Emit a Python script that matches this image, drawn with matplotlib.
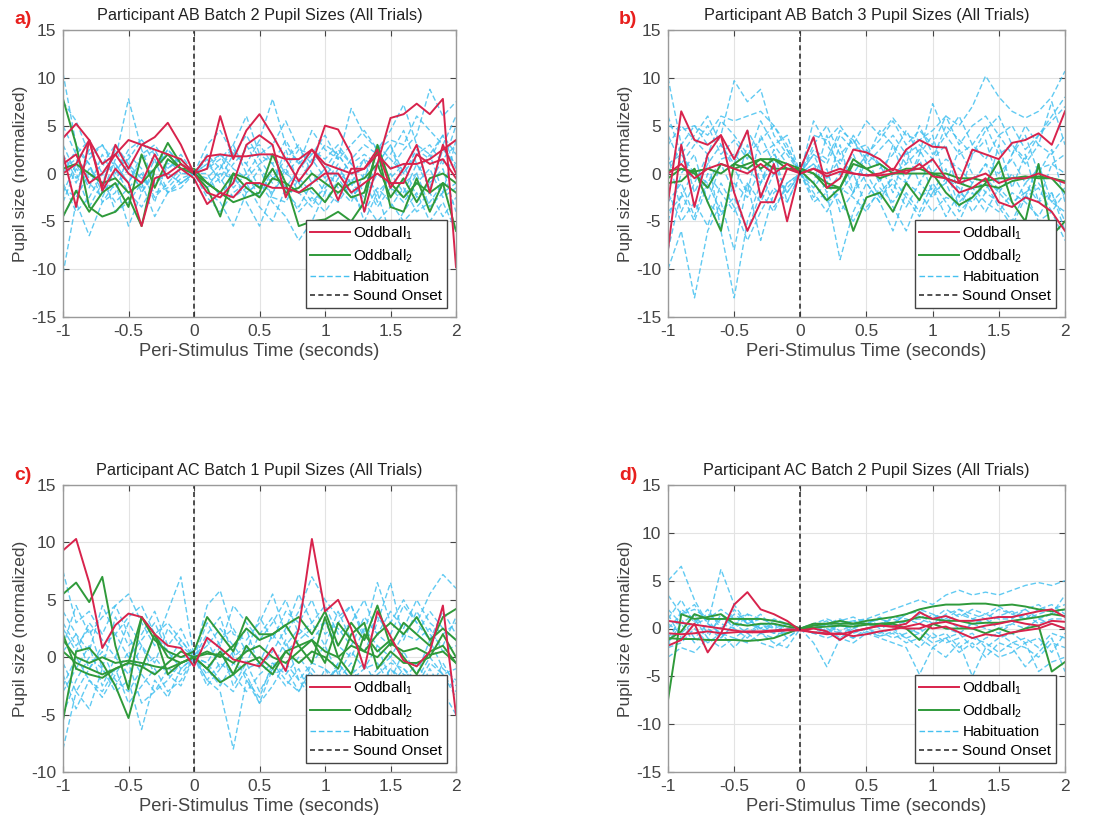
# Pupil size traces, 4 panels (participant/batch), oddball vs habituation trials
import numpy as np
import matplotlib
matplotlib.use('Agg')
import matplotlib.pyplot as plt
from matplotlib.lines import Line2D

plt.rcParams['font.family'] = ['Liberation Sans', 'DejaVu Sans']
plt.rcParams['mathtext.default'] = 'regular'
plt.rcParams['axes.unicode_minus'] = False

# sample times (seconds), 0.1 s step
t = np.linspace(-1, 2, 31)

# ---- panel a: participant AB batch 2 ----
a_odd1 = [
    [3.7, 5.2, 3.5, 1.0, 2.0, 3.5, 3.0, 3.8, 5.3, 3.0, 0.0, 0.5, 6.0, 1.5, 4.5, 6.2, 4.0, 1.5, -0.8, 1.0, 5.0, 4.6, 2.0, -4.0, 1.0, 5.8, 6.2, 7.3, 6.2, 7.8, -9.8],
    [2.0, -3.5, 3.5, -1.5, 3.0, 0.5, 3.0, 2.5, 2.0, 1.5, 0.0, 1.8, 2.0, 1.8, 1.8, 2.0, 2.0, 1.5, 1.5, 2.5, 1.0, 0.5, 0.0, 0.5, 2.0, 0.5, 1.0, 1.0, 1.5, 2.5, 3.5],
    [0.0, 1.0, 3.5, -1.8, 0.5, -1.0, -5.5, -0.5, 0.0, 1.0, 0.0, -2.0, -2.5, -1.0, 3.0, 4.0, 3.0, -2.5, 0.5, 2.5, 0.5, -2.8, 0.5, 0.5, 2.5, -1.5, 0.5, 3.0, -2.0, 3.0, 0.0],
    [1.0, 2.0, -1.0, 0.0, 2.0, 0.0, -1.0, 2.0, -0.5, 0.5, -0.5, -3.2, -2.0, -2.5, -1.0, -1.0, -1.5, -1.5, -2.0, -1.0, 0.0, 0.0, -2.0, -1.0, 0.0, -1.0, -1.0, 2.0, 1.0, 1.5, -0.5],
]
a_odd2 = [
    [7.8, 3.0, -3.5, -4.5, -4.0, -2.5, -5.5, 0.5, 3.2, 1.0, 0.0, -1.5, -4.5, 0.0, -1.5, -2.5, -0.5, -1.0, -5.5, -5.0, -4.8, -4.0, -5.0, -3.0, 3.0, -1.0, -2.5, -1.0, -2.0, -1.0, -6.0],
    [-4.5, -1.8, -4.0, -2.0, -1.0, -3.5, 2.0, -1.5, 1.5, 0.5, 0.5, -1.0, -2.0, -3.0, -2.5, -2.0, 2.0, -1.0, -2.0, -1.5, -3.0, -1.0, -2.5, -2.0, 2.5, -3.5, -4.0, -0.5, -4.0, -1.0, -2.0],
    [0.5, 1.0, 0.0, -1.0, -0.5, -2.0, -1.0, 0.5, 2.0, 0.5, 0.0, -1.0, -2.0, 0.0, -0.5, -1.5, 0.5, -2.0, -1.5, 0.0, -1.0, -2.0, -1.0, -0.5, 1.0, -2.5, -0.5, -3.0, -0.5, 0.0, -1.0],
]
a_hab = [
    [10.5, 3.0, 1.0, -2.0, 1.5, 7.8, 2.5, -1.0, 0.5, 2.0, 0.0, 1.5, -1.0, 1.0, 2.5, 3.0, 1.0, -1.5, 0.5, 2.0, 1.0, -0.5, 1.5, 3.0, 2.0, 0.5, 2.5, 4.0, 8.8, 6.0, 7.5],
    [-10.5, -3.0, -6.5, -3.0, -1.0, -5.5, -2.0, 0.0, -2.0, -1.0, 0.0, -2.0, -3.0, -5.5, -2.0, -1.0, -3.0, -4.5, -7.0, -5.0, -2.0, -3.0, -1.0, -5.0, -2.0, -6.5, -4.0, -2.0, -5.0, -3.0, -6.0],
    [7.5, 5.5, 2.0, 3.0, 0.5, 1.5, 3.5, 2.0, 0.5, 1.5, 0.0, 3.0, 4.5, 2.0, 1.0, 3.5, 7.8, 3.0, 1.0, 4.5, 2.5, 1.5, 6.8, 4.0, 2.5, 4.5, 7.2, 3.0, 2.0, 4.0, 2.0],
    [-4.5, -2.0, 0.5, -1.0, -3.0, -1.5, 0.0, -2.5, -1.0, 0.5, 0.0, -0.5, 1.0, -1.5, 0.0, -2.5, 0.5, -2.0, -3.5, -1.0, 0.5, -1.5, -3.0, 0.0, -2.0, -0.5, 1.0, -2.5, -1.0, 0.5, -4.0],
    [1.5, -1.0, 2.5, 0.0, 1.0, -1.0, 1.5, 2.5, 0.0, -1.0, 0.0, 1.0, 2.0, 0.5, -0.5, 1.0, 2.0, 0.0, 1.5, -1.0, 0.5, 2.5, 1.0, -0.5, 3.0, 1.5, 0.0, 2.0, 3.0, 1.0, 5.0],
    [-2.0, 1.0, -1.5, 2.0, -0.5, 1.0, -2.0, 0.5, 2.5, 1.0, 0.0, -1.5, 0.5, 2.5, 1.0, -1.5, -0.5, 1.5, 3.0, 0.0, -2.0, 0.5, -1.0, 1.5, -3.0, 0.0, -2.0, 1.0, -1.5, 2.5, 1.0],
    [3.0, 0.0, -3.5, -1.0, 2.5, 0.0, -1.5, 1.5, -2.0, -0.5, 0.0, 0.5, 2.0, -1.0, 3.0, 0.5, -1.0, 2.5, -1.0, 1.5, -0.5, 2.0, 0.0, -2.0, 1.0, 3.0, -1.0, 0.0, 2.0, -2.0, 3.5],
    [0.0, 2.5, 1.0, -3.0, -2.0, 2.0, 0.5, -3.0, 1.5, 0.0, 0.0, 0.0, -2.5, 0.0, -3.0, -5.5, -2.0, 0.5, -2.0, -3.5, -1.0, 1.0, -2.0, -4.0, -1.5, -3.0, -5.0, -3.5, -2.0, -4.5, -2.5],
    [5.0, 2.0, 3.5, 1.0, 0.0, 2.5, 3.5, 1.0, 2.0, 0.5, 0.0, 2.0, 0.5, 3.0, 6.0, 2.0, 3.0, 5.5, 2.5, 2.0, 4.0, 1.5, 3.0, 4.5, 2.5, 3.5, 3.0, 6.0, 4.5, 3.0, 6.0],
    [-1.0, -4.0, -2.5, 0.0, -4.0, -3.0, -1.0, -4.5, -2.0, -1.5, 0.0, -2.5, -4.0, -2.0, -1.0, -3.5, -5.0, -1.5, -4.0, -2.5, -4.0, -2.0, -0.5, -3.0, -5.0, -3.5, -1.5, -4.0, -3.0, -1.0, -2.0],
    [2.0, -0.5, 1.5, 3.0, 1.0, -1.0, 2.0, 3.0, 1.0, 1.5, 0.0, 1.0, -0.5, 2.0, 4.0, 1.5, -0.5, 0.5, 2.5, 1.0, 3.0, 2.0, 0.0, 1.5, 0.5, 2.0, 4.5, 1.0, -1.0, 1.5, 3.0],
    [-3.0, 0.5, -1.0, -2.5, 0.5, -2.0, -3.5, -1.0, 0.0, -1.0, 0.0, -1.5, -0.5, -2.5, -1.5, 0.5, -2.5, -3.0, -0.5, -2.0, -3.0, -0.5, -2.5, -1.0, -3.5, -1.5, -2.5, 0.0, -3.5, -2.0, -1.0],
    [0.5, 1.5, -0.5, 1.0, 3.0, 1.0, -0.5, 0.5, 2.5, 1.0, 0.0, 0.5, 1.5, 3.0, 0.0, 2.0, 1.0, 3.5, 1.0, 2.5, 1.5, 3.0, 1.0, 2.0, 1.0, 3.0, 0.0, 2.5, 1.5, 4.0, 0.5],
    [-1.5, -2.5, 0.0, -1.0, -1.5, 0.5, -0.5, -2.0, -1.5, 0.0, 0.0, -1.0, 0.0, -0.5, -2.0, -1.0, -2.0, 0.0, -1.0, -3.0, -1.5, 0.0, -1.0, -2.5, 0.0, -1.5, -3.0, -1.0, 0.5, -2.5, -1.5],
]

# ---- panel b: participant AB batch 3 ----
b_odd1 = [
    [-8.0, 3.0, -3.5, 2.0, 4.0, 1.5, 4.5, -2.5, 1.0, -5.0, 0.5, 3.8, -1.5, -0.5, 2.5, 2.2, 1.5, 0.3, 2.5, 3.5, 2.8, 2.7, -1.0, 2.5, 2.0, 1.5, 3.2, 3.5, 4.2, 3.0, 6.5],
    [-3.0, 6.5, 3.5, 3.0, 4.0, -2.0, -6.0, -3.0, -3.0, 0.5, 0.0, 0.5, -0.3, 0.2, 0.0, -0.2, -0.2, 0.0, 0.3, 0.5, 1.5, -0.5, -2.0, -1.5, -0.5, -3.0, -3.5, -2.5, -3.0, -4.0, -6.0],
    [0.0, 1.0, -0.5, 0.5, 1.0, 0.5, 0.0, 1.0, 0.0, 1.0, 0.0, 0.5, 0.0, 0.5, 0.0, -0.2, 0.0, 0.5, 0.0, 1.0, -0.3, -0.5, -1.0, -0.5, 0.0, -1.0, -0.5, -0.5, 0.0, -0.5, -1.0],
]
b_odd2 = [
    [-1.0, -0.8, 0.5, -3.0, -6.0, 1.0, 2.0, 0.5, 1.5, 0.5, 0.3, -1.0, -2.8, -1.5, -6.0, -2.5, -2.0, -4.0, -1.0, -2.8, 0.0, -2.0, -3.3, -2.5, -1.0, 1.3, -3.0, -5.0, 1.0, -6.5, -5.0],
    [0.3, 0.5, 0.0, -1.5, 1.0, 0.5, 1.0, 1.5, 1.5, 1.0, 0.5, 0.0, -1.5, -1.5, 1.5, 0.5, -0.5, 0.0, 0.0, 0.0, 0.0, -0.5, -1.0, -1.5, -1.2, -1.5, -0.8, -0.5, -0.3, -0.5, -2.0],
    [-0.5, 0.5, 0.2, 0.5, 0.0, 1.0, 0.5, 1.5, 0.5, 0.5, 0.5, 0.0, -1.0, -1.5, 1.0, 0.5, 1.0, 0.0, 0.5, 0.5, 0.0, 0.0, -0.5, -0.5, -0.8, -0.5, -0.5, -0.3, -0.5, -0.5, -0.8],
]
b_hab = [
    [10.0, 3.0, 5.0, 3.0, 4.0, 9.7, 7.5, 8.8, 4.0, 2.0, 0.0, 5.5, 3.0, 1.0, 4.0, 2.0, 3.5, 5.5, 3.0, 4.5, 3.0, 6.0, 5.0, 7.0, 10.2, 8.0, 6.5, 5.8, 6.5, 8.0, 10.7],
    [-10.0, -6.0, -13.0, -6.0, -3.0, -8.0, -1.0, -7.0, -2.0, -1.0, 0.0, -3.0, -2.0, -9.0, -4.0, -1.0, -3.0, -6.0, -2.0, -4.0, -1.0, -3.0, -5.0, -2.0, -4.0, -1.5, -3.0, -2.0, -5.0, -4.0, -7.0],
    [2.0, -4.0, -1.0, 2.0, -6.0, -13.0, -5.0, -1.0, 1.0, -2.0, 0.0, 1.0, -2.0, 0.0, 2.0, -1.0, -3.0, 0.0, -1.0, 1.5, -2.0, 0.5, -3.5, -1.0, 1.0, -2.0, 0.0, -2.5, 1.0, -3.0, -1.5],
    [5.0, 4.5, 5.0, 4.0, 6.0, 5.5, 6.0, 6.5, 5.0, 3.0, 0.0, 4.0, 3.5, 5.0, 3.0, 5.5, 4.0, 5.8, 4.0, 3.5, 4.5, 6.0, 3.0, 5.0, 6.0, 4.0, 5.0, 2.5, 4.0, 6.0, 8.0],
    [-5.0, 0.0, 2.0, -3.0, 1.0, -2.0, 3.0, -1.0, 2.5, -3.0, 0.0, 2.0, -1.0, 3.0, -2.0, 1.5, -1.0, 3.0, -1.0, 2.0, 4.0, -1.0, 2.5, 0.0, -2.0, 3.0, -1.5, 2.0, -3.0, 1.0, 2.0],
    [0.0, 3.0, -2.0, 1.0, 3.0, 0.5, -2.0, 4.0, 1.0, 2.5, 0.0, -1.0, 4.0, 0.0, -2.0, 2.5, 1.0, -2.0, 2.5, -1.0, 1.5, 3.0, -2.5, 2.0, 3.5, -1.0, 2.0, 4.0, 0.0, 2.5, -3.0],
    [-3.0, -1.0, -4.5, 0.0, -2.0, -4.0, -1.0, -3.0, 0.0, -2.0, 0.0, -1.5, 0.5, -4.0, -2.0, 0.0, -2.5, -1.0, -3.5, -1.0, -2.5, -0.5, -1.5, -4.0, -2.0, -3.0, -5.0, -2.0, -1.0, -3.0, -4.0],
    [4.0, 1.0, 3.0, 5.0, 2.0, 3.5, 1.5, 5.5, 3.0, 1.0, 0.0, 2.0, 1.0, 4.0, 2.5, 3.0, 0.5, 2.0, 4.5, 2.0, 7.3, 4.0, 2.0, 3.0, 5.0, 2.0, 3.0, 1.0, 3.0, 2.0, 4.0],
    [-8.0, -2.0, -5.0, -1.0, -4.0, -2.5, -6.0, -2.0, -4.0, -1.0, 0.0, -2.0, -4.0, -1.5, -2.5, -4.0, -1.5, -3.0, -1.0, -2.0, -4.0, -2.5, -3.0, -1.5, -3.0, -4.0, -2.0, -3.0, -4.5, -2.0, -6.0],
    [1.0, 2.0, 0.0, -1.0, 1.5, 2.0, 0.5, -1.0, 2.0, 0.5, 0.0, 1.0, -0.5, 1.5, 0.0, 2.0, 1.0, 0.0, 1.0, 2.5, 0.0, 1.5, 0.5, -1.0, 1.0, 0.0, 1.5, -1.0, 0.5, 1.0, 0.0],
    [3.0, 5.0, 3.5, 2.0, 5.5, 4.0, 2.0, 3.5, 5.0, 2.5, 0.0, 3.0, 5.0, 2.0, 3.5, 1.5, 4.5, 3.0, 1.0, 5.0, 2.0, 4.0, 6.0, 3.0, 1.5, 4.0, 2.0, 5.0, 3.0, 7.5, 3.0],
    [-2.0, -5.0, -3.0, -5.5, -1.0, -3.5, -7.0, -4.0, -1.5, -3.0, 0.0, -2.5, -1.0, -3.0, -5.0, -2.5, -0.5, -3.5, -6.0, -2.5, -1.5, -4.5, -2.0, -3.0, -1.0, -3.5, -5.5, -2.5, -1.5, -4.0, -2.0],
    [6.0, 2.0, 4.0, 6.0, 3.0, 1.0, 4.5, 2.0, 3.0, 4.0, 0.0, 2.5, 1.5, 4.5, 3.5, 1.0, 2.5, 4.0, 2.0, 3.0, 1.5, 5.0, 3.5, 2.0, 4.5, 6.0, 3.0, 1.5, 4.0, 5.5, 7.0],
    [-4.0, -2.5, 0.5, -3.0, -4.5, -1.0, -2.5, 0.5, -3.5, -1.5, 0.0, -1.0, -3.0, -2.0, 0.0, -3.5, -2.0, -0.5, -2.5, -4.5, -2.0, -1.0, -4.0, -2.5, -0.5, -2.0, -3.5, -1.0, -3.0, -2.0, -5.0],
]

# ---- panel c: participant AC batch 1 ----
c_odd1 = [
    [9.3, 10.3, 6.5, 0.8, 2.8, 3.8, 3.5, 2.0, 1.0, 0.8, -0.8, 1.7, 0.8, -0.2, -0.5, -0.8, 0.8, -1.2, 2.5, 10.3, 4.0, 5.0, 2.5, -1.0, 4.0, 1.8, -0.3, -0.8, 0.5, 4.5, -5.0],
]
c_odd2 = [
    [5.5, 6.5, 4.8, 7.0, 1.0, -2.8, 3.5, 1.5, 0.5, 0.0, 0.5, 3.5, 2.0, 0.5, 3.5, 2.0, 2.0, 2.8, 3.5, 2.0, 4.0, 1.0, 3.0, 1.5, 4.5, 1.0, 3.0, 2.0, 1.0, 3.5, 4.2],
    [-5.5, 0.5, 0.8, -0.5, -2.5, -5.3, -1.0, 2.0, 0.0, -0.5, 0.0, -1.0, 0.5, -1.5, 1.0, -0.5, -1.5, 0.5, 1.0, -0.5, 3.5, 0.0, -1.5, 2.0, 0.5, 1.5, 0.0, -1.5, 0.5, 1.0, -0.5],
    [2.0, -1.0, -1.5, -1.8, -1.0, -0.5, 3.5, 2.0, -1.5, -0.5, 0.0, -1.0, -2.2, -1.5, -0.5, 0.0, -1.0, 0.5, -0.5, 0.5, 0.0, -1.0, 2.0, 3.0, -1.0, 0.5, -0.5, -0.5, 0.0, 2.0, 0.0],
    [0.5, -0.5, -1.0, -1.5, -1.0, -0.5, -0.8, -1.5, -0.5, 0.5, 0.0, 0.5, 0.0, 1.0, 2.5, 1.5, 2.0, 2.8, 1.0, 1.5, -0.5, 3.0, 1.5, 0.5, 2.0, 3.0, 2.0, 3.5, 1.5, 2.5, 1.5],
    [1.5, 0.0, -0.5, 0.0, -0.5, -0.3, -0.5, -0.8, -1.0, -0.5, 0.0, 0.3, 0.2, -0.5, 0.5, 1.0, 0.0, -0.5, 0.5, 1.5, 0.5, 0.0, 1.0, 0.5, 0.0, 1.2, 0.5, 0.8, 0.2, 0.5, -0.5],
]
c_hab = [
    [7.5, 3.0, 4.0, 2.0, 4.5, 5.5, 3.0, 1.0, 4.0, 7.0, 0.0, 4.5, 5.8, 2.0, 1.5, 3.0, 5.5, 2.0, 4.0, 7.0, 5.0, 3.5, 4.5, 2.0, 6.5, 3.0, 5.0, 3.0, 5.5, 7.2, 6.0],
    [-8.0, -3.0, -4.5, -1.0, -3.0, -2.0, -6.3, -2.0, -3.5, -1.0, 0.0, -2.0, -3.0, -8.0, -2.0, -4.0, -1.0, -2.5, -1.0, -3.5, -2.0, -1.0, -4.5, -2.0, -3.0, -1.0, -2.5, -3.5, -1.0, -3.0, -5.0],
    [3.0, 1.0, 2.5, -1.0, 3.5, 1.0, 2.0, 4.0, 1.0, 2.5, 0.0, 3.0, 1.0, 4.5, 3.0, 1.5, 3.0, 5.0, 2.0, 3.0, 4.5, 2.0, 3.0, 5.0, 2.0, 4.0, 2.5, 5.0, 3.0, 2.0, 3.0],
    [-3.0, -1.0, 1.0, -2.5, 0.0, -1.5, 1.0, -1.5, -0.5, 1.5, 0.0, -1.5, 1.0, -2.5, -0.5, -3.0, -1.0, 1.5, -2.0, -0.5, 1.0, -1.5, 0.5, -1.0, 1.0, -2.0, 0.5, -1.5, 1.5, -1.0, -2.0],
    [1.0, 4.5, 2.0, 3.5, 4.5, 2.0, -1.0, 2.0, 0.5, -1.0, 0.0, 1.5, -1.0, 0.5, 2.5, -1.0, 0.5, 2.5, 5.5, 3.0, 1.0, 4.0, 1.5, 0.5, 3.0, 6.5, 1.5, 4.0, 2.0, 1.0, 3.5],
    [-1.5, -4.5, -2.0, -3.0, -1.0, -4.0, -2.5, -1.0, -3.0, -2.0, 0.0, -1.0, -2.5, -0.5, -1.5, -4.0, -2.5, -0.5, -2.0, -3.5, -1.0, -3.0, -1.5, -0.5, -2.5, -1.0, -2.0, -0.5, -2.5, -1.5, -3.0],
    [0.5, 2.0, -1.0, 1.0, 2.0, 0.0, 1.5, 3.0, 0.5, 0.0, 0.0, 2.0, 3.5, 0.0, 1.0, -0.5, 2.0, 0.5, 1.5, 2.5, 3.0, 1.0, 0.0, 2.5, 1.0, 0.0, 2.0, 1.5, 2.5, 0.5, 1.0],
    [-5.0, -2.0, 0.0, -1.0, -2.5, -0.5, -4.0, -3.0, -1.0, -1.5, 0.0, -0.5, -2.0, -3.0, -1.0, -0.5, -1.5, -1.0, -3.0, -0.5, -1.0, -2.0, -0.5, -3.5, -1.5, -0.5, -1.0, -2.5, -0.5, -1.5, -3.5],
    [2.5, 0.5, 3.0, 1.5, 0.0, 3.0, 1.0, -0.5, 2.5, 1.0, 0.0, 1.0, 2.5, 1.0, -0.5, 2.0, 3.5, 1.0, 2.5, 1.5, 3.0, 2.5, 1.0, 3.5, 2.0, 1.0, 3.0, 2.0, 4.0, 2.5, 1.5],
    [-2.5, 0.0, -2.0, -3.5, -1.5, 0.5, -1.5, -3.0, -2.0, -0.5, 0.0, -2.0, -0.5, -1.5, -3.0, -1.5, -0.5, -2.0, -3.0, -1.0, -2.5, -0.5, -2.0, -1.0, -0.5, -2.5, -1.0, -2.0, -3.0, -0.5, -2.5],
    [4.0, 2.0, 0.5, 4.5, 2.0, 3.5, 4.5, 2.0, 3.0, 1.5, 0.0, -0.5, 1.5, 2.5, 0.5, 3.5, 1.5, 4.0, 3.0, 5.0, 2.0, 3.0, 4.5, 1.5, 3.5, 2.0, 4.5, 3.0, 1.5, 4.0, 2.0],
    [-0.5, -3.0, -1.0, 0.5, -2.0, -3.0, -1.0, 0.0, -1.5, -2.5, 0.0, -2.5, -1.0, 0.5, -2.0, -3.5, -0.5, -1.5, 0.0, -1.5, -3.0, -0.5, -2.0, -2.5, -1.0, 0.0, -1.5, -2.0, 0.0, -1.5, -1.0],
]

# ---- panel d: participant AC batch 2 ----
d_odd1 = [
    [-1.8, -1.2, 0.5, -2.5, -0.5, 2.5, 3.8, 2.0, 1.5, 0.8, -0.2, 0.0, -0.3, -1.2, -0.3, 0.0, 0.3, 0.2, 0.5, 1.7, 1.0, 1.3, 0.8, 0.8, 1.0, 1.2, 1.2, 1.5, 1.8, 2.0, 1.2],
    [0.8, 0.6, 0.4, 0.2, 0.0, -0.2, -0.4, -0.4, -0.3, -0.2, -0.2, -0.4, -0.6, -0.5, -0.8, -0.6, -0.3, -0.1, 0.2, 0.5, 0.0, 0.2, -0.4, -1.0, -0.6, -0.8, -0.4, -0.2, 0.0, 0.5, 0.0],
    [-0.5, -0.6, -0.5, -0.3, -0.5, -0.4, -0.3, -0.3, -0.2, -0.1, -0.1, -0.4, -0.5, -0.6, -0.3, 0.0, 0.3, 0.2, 0.0, 0.0, 0.5, 0.7, 0.3, 0.0, 0.3, 0.5, 0.8, 0.5, 0.3, 0.8, 0.7],
]
d_odd2 = [
    [-7.5, 1.5, 1.0, 1.2, 1.5, 0.5, 0.3, 0.5, 0.5, 0.2, 0.0, 0.3, 0.5, 0.8, 0.5, 0.5, 0.3, 0.5, 0.0, -1.2, 0.5, 0.0, 0.0, 0.0, -0.5, 0.0, -0.5, 0.0, 0.3, -4.5, -3.5],
    [-1.2, -0.3, 1.5, 1.0, 1.0, 1.0, 1.0, 1.0, 0.8, 0.5, 0.0, 0.5, 0.5, 0.5, 0.5, 0.8, 1.0, 1.2, 1.5, 2.0, 2.3, 2.5, 2.5, 2.6, 2.6, 2.4, 2.5, 2.3, 2.0, 1.8, 2.0],
    [-1.0, -1.1, -1.1, -1.2, -1.2, -1.2, -1.3, -1.2, -1.0, -0.5, 0.0, 0.1, 0.2, 0.3, 0.2, 0.4, 0.5, 0.6, 0.8, 1.2, 1.0, 0.8, 0.8, 0.5, 0.6, 0.6, 0.8, 1.0, 1.2, 1.5, 1.3],
]
d_hab = [
    [5.0, 6.5, 3.0, 0.5, 6.2, 2.5, 0.5, 1.0, 0.5, 0.0, 0.0, 0.5, 1.0, 0.5, 0.8, 1.0, 1.5, 2.0, 2.5, 3.0, 2.5, 3.5, 4.0, 3.5, 3.8, 3.5, 4.0, 4.5, 4.8, 4.5, 5.0],
    [-3.0, -2.0, -2.5, -1.0, -2.0, -1.0, -1.5, -0.5, -1.5, -2.0, 0.0, -1.5, -4.0, -1.0, -1.5, -0.5, -1.0, -1.5, -2.0, -4.8, -2.0, -3.0, -1.5, -5.0, -2.0, -3.0, -2.5, -1.5, -4.5, -3.5, -3.0],
    [2.0, 0.5, 1.5, -0.5, 1.0, 0.5, 1.0, 0.0, -0.5, 0.5, 0.0, 0.3, 0.8, -0.3, 0.5, 1.0, 0.3, 1.2, 1.0, 0.5, 1.5, 0.8, 1.5, 1.0, 0.5, 1.3, 1.8, 1.0, 1.5, 2.0, 2.5],
    [-1.0, 1.0, -1.0, 0.5, -0.5, -1.0, 0.0, -0.5, 0.5, -1.0, 0.0, -0.5, 0.0, -1.0, 0.0, -0.5, -0.3, -1.0, -0.5, 0.0, -1.0, -0.5, -2.0, -1.0, -1.5, -2.5, -1.5, -2.0, -3.0, -1.5, -2.0],
    [3.5, 1.5, 2.0, 1.0, 2.0, 1.0, 1.5, 1.0, 0.8, 0.5, 0.0, 0.5, 0.2, 0.8, 1.2, 0.5, 1.0, 0.5, 1.5, 1.8, 1.0, 2.0, 1.2, 2.0, 1.5, 2.3, 1.5, 2.0, 2.5, 1.5, 3.5],
    [-2.0, -1.5, 0.0, -1.5, -0.5, -2.0, -0.5, -1.5, -2.0, -1.0, 0.0, -0.5, -1.0, -0.5, -1.0, -0.3, -0.8, -0.5, -1.5, -1.0, -2.0, -1.0, -2.5, -1.5, -3.0, -1.5, -2.0, -4.0, -2.5, -1.0, -4.5],
    [0.5, -0.5, 0.8, 1.5, 0.5, 0.0, 1.0, 0.0, 0.5, -0.5, 0.0, 0.5, -0.5, 0.3, 0.0, 0.8, 0.0, 0.5, 0.0, -0.5, 0.5, 0.0, -0.5, 0.5, 0.0, -0.5, 0.5, 0.0, 1.0, 0.5, 0.0],
    [1.0, 3.0, 0.5, 2.0, 0.0, 1.5, 0.5, 1.5, 0.0, 0.5, 0.0, 0.0, 0.5, 1.0, 0.3, 0.5, 1.2, 0.3, 0.8, 1.0, 0.5, 1.0, 0.0, 0.5, 1.0, 0.0, 0.5, 1.5, 0.5, 1.0, 1.0],
    [-2.0, 2.0, 1.0, -1.0, 1.5, 0.0, -1.0, 0.5, -0.5, -0.5, 0.0, -0.5, 0.5, -0.5, 0.0, 0.5, 1.0, 0.5, 1.5, 2.0, 1.5, 1.0, 2.0, 1.5, 1.0, 2.0, 1.5, 1.0, 2.0, 2.5, 1.5],
    [1.5, -1.0, 0.5, 1.0, -1.0, 0.5, 1.5, -0.5, -1.0, 0.0, 0.0, 0.5, -0.5, 0.5, -0.5, 0.0, -0.5, 0.0, -1.0, -0.5, -1.5, -1.0, -0.5, -2.0, -1.0, -0.5, -1.5, -1.0, -2.0, -0.5, -1.0],
    [-1.5, 0.5, -1.5, 0.0, -1.0, 0.5, -0.5, 0.5, 0.0, -0.5, 0.0, 0.2, -0.3, 0.5, 0.8, 0.3, 0.5, 1.0, 0.5, 1.5, 0.5, 1.5, 2.0, 1.0, 1.5, 1.0, 1.0, 2.0, 1.0, 1.5, 2.0],
    [0.0, 1.5, 2.5, 0.5, -0.5, 2.0, 0.5, 0.0, 1.0, 0.5, 0.0, -0.5, 0.0, -0.5, -1.0, 0.0, -0.8, -0.3, -1.0, -2.0, -0.5, -1.5, -1.0, -0.5, -2.0, -1.0, -0.5, -1.5, -1.0, -2.5, -0.5],
]

titles = ['Participant AB Batch 2 Pupil Sizes (All Trials)',
          'Participant AB Batch 3 Pupil Sizes (All Trials)',
          'Participant AC Batch 1 Pupil Sizes (All Trials)',
          'Participant AC Batch 2 Pupil Sizes (All Trials)']
letters = ['a)', 'b)', 'c)', 'd)']
ylims = [(-15, 15), (-15, 15), (-10, 15), (-15, 15)]
panels = [(a_odd1, a_odd2, a_hab), (b_odd1, b_odd2, b_hab),
          (c_odd1, c_odd2, c_hab), (d_odd1, d_odd2, d_hab)]

RED = '#d8234c'
GREEN = '#2f9a3a'
CYAN = '#45c1f0'
GREY = '#333333'

W, H = 1094, 824
fig = plt.figure(figsize=(W / 100, H / 100), dpi=100)
# axes boxes in pixels: left, top, right, bottom
boxes = [(63, 30, 456, 317), (668, 30, 1065, 317),
         (63, 485, 456, 772), (668, 485, 1065, 772)]
letter_pos = [(14, 20), (619, 20), (14, 475), (619, 475)]

for k in range(4):
    l, tp, r, b = boxes[k]
    ax = fig.add_axes([l / W, 1 - b / H, (r - l) / W, (b - tp) / H])
    odd1, odd2, hab = panels[k]
    for y in hab:
        ax.plot(t, y, color=CYAN, ls='--', lw=1.0, alpha=0.85, dashes=(4, 2))
    for y in odd2:
        ax.plot(t, y, color=GREEN, lw=1.4)
    for y in odd1:
        ax.plot(t, y, color=RED, lw=1.4)
    ax.axvline(0, color=GREY, ls='--', lw=1.2, dashes=(3, 2))

    ax.set_xlim(-1, 2)
    ax.set_ylim(*ylims[k])
    ax.set_xticks([-1, -0.5, 0, 0.5, 1, 1.5, 2])
    ax.set_xticklabels(['-1', '-0.5', '0', '0.5', '1', '1.5', '2'])
    ax.set_yticks(np.arange(ylims[k][0], ylims[k][1] + 1, 5))
    ax.grid(True, color='#e3e3e3', lw=0.8)
    ax.set_axisbelow(True)
    ax.tick_params(direction='in', top=True, right=True, labelsize=12.5,
                   colors='#444444', length=4, pad=5)
    for s in ax.spines.values():
        s.set_color('#9a9a9a')
        s.set_linewidth(1.0)
    ax.set_title(titles[k], fontsize=11.7, pad=7, color='#222222')
    ax.set_xlabel('Peri-Stimulus Time (seconds)', fontsize=13.2, color='#444444', labelpad=3)
    ax.set_ylabel('Pupil size (normalized)', fontsize=12.5, color='#444444', labelpad=2)

    handles = [Line2D([], [], color=RED, lw=1.4),
               Line2D([], [], color=GREEN, lw=1.4),
               Line2D([], [], color=CYAN, lw=1.0, ls='--', dashes=(4, 2)),
               Line2D([], [], color=GREY, lw=1.2, ls='--', dashes=(3, 2))]
    leg = ax.legend(handles, ['Oddball$_1$', 'Oddball$_2$', 'Habituation', 'Sound Onset'],
                    loc='lower right', fontsize=11, fancybox=False, framealpha=1,
                    edgecolor='#444444', borderaxespad=0.6, handlelength=2.6,
                    handletextpad=0.2, labelspacing=0.35, borderpad=0.3)
    leg.get_frame().set_linewidth(1.0)

    fig.text(letter_pos[k][0] / W, 1 - letter_pos[k][1] / H, letters[k],
             color='#e8201e', fontsize=14, fontweight='bold', va='center', ha='left')

fig.savefig('out.png', dpi=100)
